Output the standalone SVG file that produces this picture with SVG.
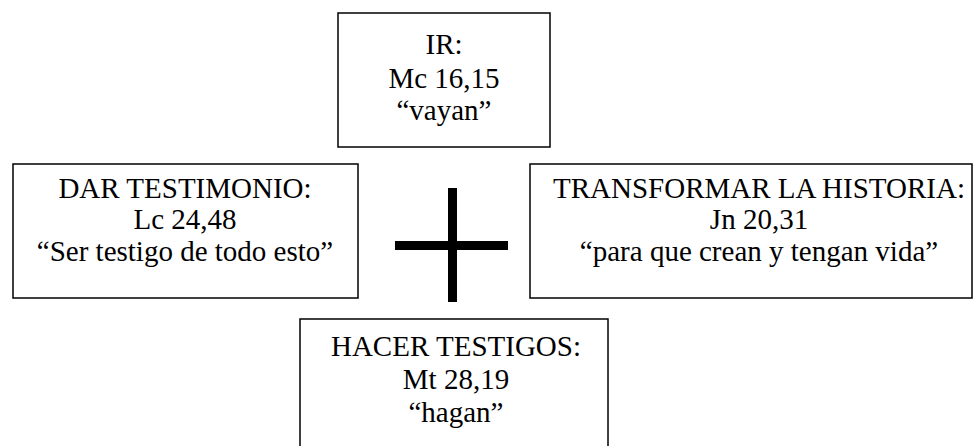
<svg xmlns="http://www.w3.org/2000/svg" width="980" height="446" viewBox="0 0 980 446">
<style>
.box{fill:#fff;stroke:#000;stroke-width:1.5}
.t{font-family:"Liberation Serif","Times New Roman",serif;font-size:29px;fill:#000;text-anchor:middle}
</style>
<rect width="980" height="446" fill="#fff"/>
<g id="connectors">
<rect x="448" y="188" width="9" height="114" fill="#000"/>
<rect x="395" y="241" width="113" height="9" fill="#000"/>
</g>
<g id="ir">
<rect class="box" x="338" y="13" width="212" height="134"/>
<text class="t" x="444" y="54">IR:</text>
<text class="t" x="444" y="88">Mc 16,15</text>
<text class="t" x="444" y="120">“vayan”</text>
</g>
<g id="dar">
<rect class="box" x="13" y="164" width="345" height="134"/>
<text class="t" x="185" y="198">DAR TESTIMONIO:</text>
<text class="t" x="185" y="229">Lc 24,48</text>
<text class="t" x="185" y="261">“Ser testigo de todo esto”</text>
</g>
<g id="transformar">
<rect class="box" x="530" y="164" width="442" height="134"/>
<text class="t" x="759" y="198">TRANSFORMAR LA HISTORIA:</text>
<text class="t" x="759" y="229">Jn 20,31</text>
<text class="t" x="759" y="261">“para que crean y tengan vida”</text>
</g>
<g id="hacer">
<rect class="box" x="300" y="319" width="308" height="140"/>
<text class="t" x="456" y="356">HACER TESTIGOS:</text>
<text class="t" x="456" y="389">Mt 28,19</text>
<text class="t" x="456" y="422">“hagan”</text>
</g>
</svg>
